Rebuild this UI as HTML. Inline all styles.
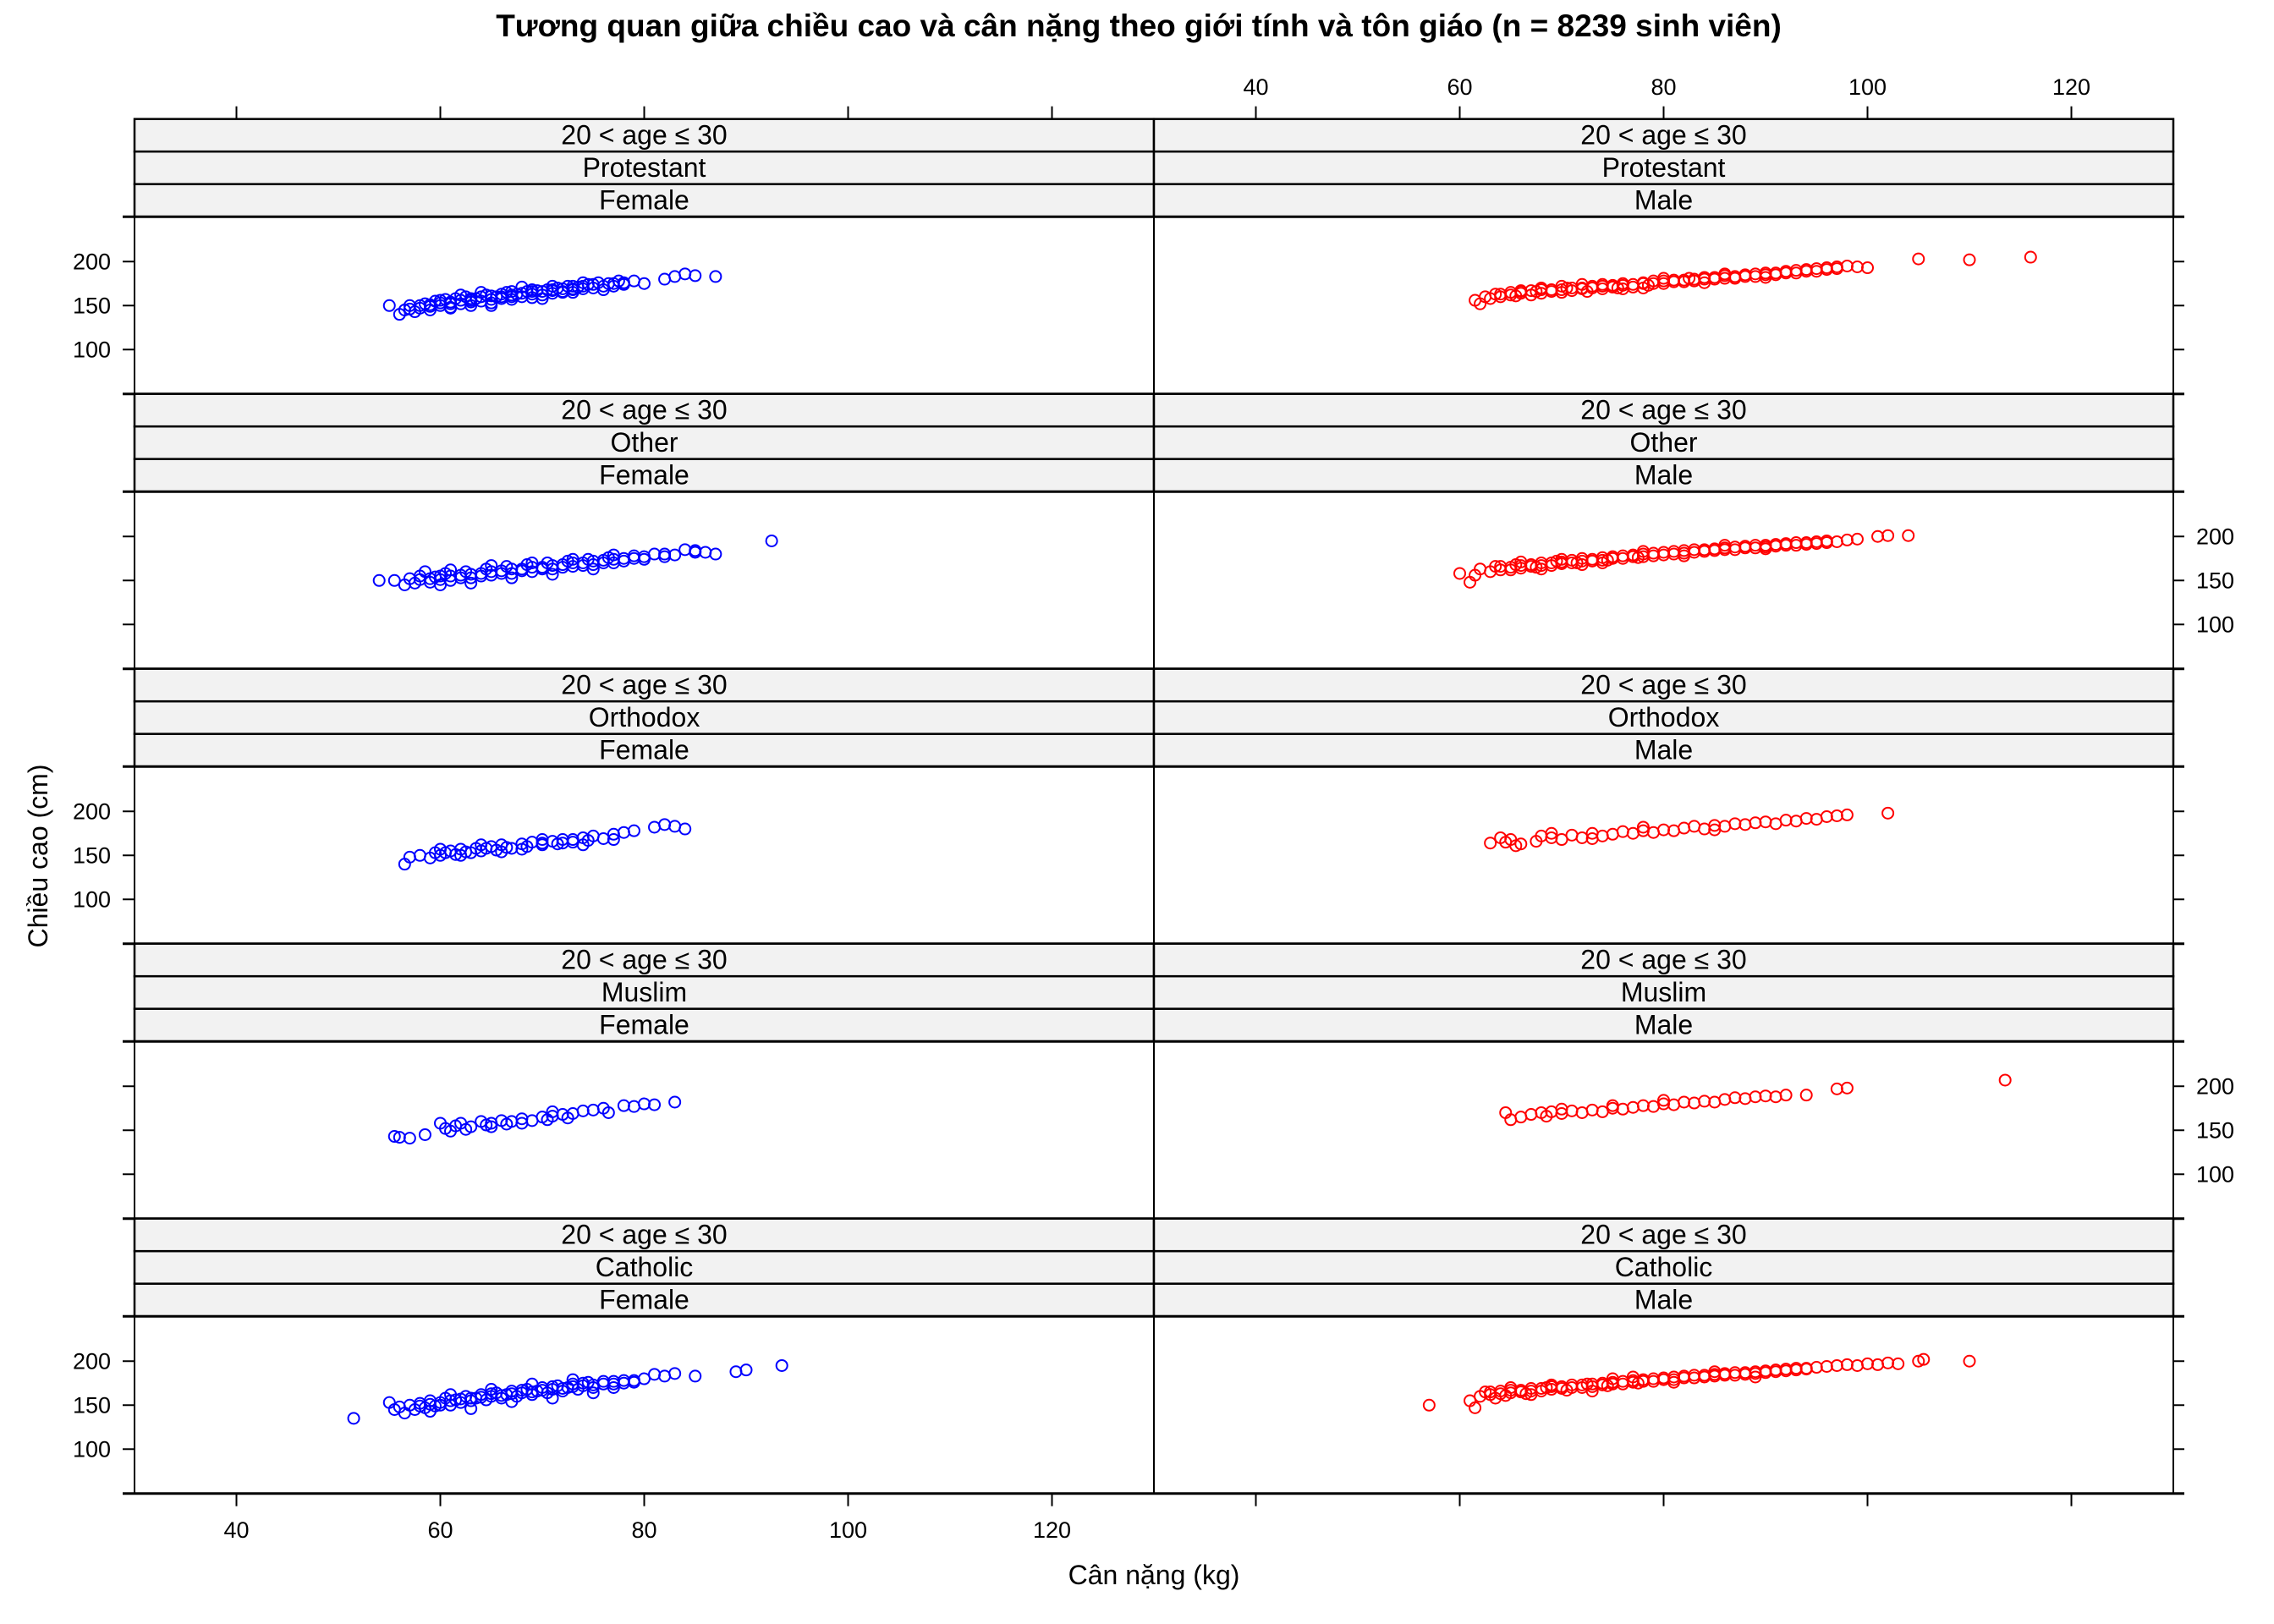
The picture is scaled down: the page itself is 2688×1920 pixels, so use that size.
<!DOCTYPE html>
<html><head><meta charset="utf-8">
<style>
html,body{margin:0;padding:0;background:#fff;}
svg{display:block;font-family:"Liberation Sans","DejaVu Sans",sans-serif;}
</style></head>
<body>
<svg id="chart" width="2688" height="1920" viewBox="0 0 2688 1920" xmlns="http://www.w3.org/2000/svg">
<text x="1346" y="43" text-anchor="middle" font-size="37" font-weight="bold">Tương quan giữa chiều cao và cân nặng theo giới tính và tôn giáo (n = 8239 sinh viên)</text>
<text x="1364" y="1873" text-anchor="middle" font-size="32">Cân nặng (kg)</text>
<text transform="translate(56,1012) rotate(-90)" text-anchor="middle" font-size="32">Chiều cao (cm)</text>
<g id="layer"></g>
</svg>
<script>
const religions = ["Protestant","Other","Orthodox","Muslim","Catholic"];
const genders = ["Female","Male"];
const xTicks = [40,60,80,100,120];
const yTicks = [100,150,200];
const protestantFemale = [[55,150],[56,140],[56.5,145],[57,150],[57.5,143],[58,147],[58.5,152],[59,145],[59.5,155],[60,150],[60.5,157],[61,148],[61.5,158],[62,152],[62.5,160],[63,150],[63.5,158],[64,155],[64.5,162],[65,153],[65.5,160],[66,158],[66.5,165],[67,157],[67.5,163],[68,160],[68.5,166],[69,159],[69.5,167],[70,162],[70.5,168],[71,164],[71.5,170],[72,166],[72.5,172],[73,165],[73.5,171],[74,169],[74.5,174],[75,170],[75.5,176],[76,168],[76.5,175],[77,172],[77.5,178],[78,176],[79,178],[80,175],[82,180],[83,183],[84,186],[85,184],[87,183],[60,156],[62,162],[64,165],[66,160],[68,171],[70,158],[72,165],[74,176],[61,147],[63,154],[65,150],[67,166],[69,163],[71,172],[73,169],[58,150],[59,151],[60,153],[61,154],[62,156],[63,158],[64,160],[65,161],[66,163],[67,160],[68,164],[69,166],[70,166],[71,168],[72,169],[73,172],[74,172],[75,174],[76,172],[77,175],[78,174],[57,146],[59,149],[61,152],[63,156],[65,157],[67,162],[69,168],[71,167],[73,168]];
const protestantMale = [[61.5,156],[62,152],[62.5,160],[63,158],[63.5,163],[64,160],[65,165],[65.5,161],[66,164],[67,162],[67.5,166],[68,164],[69,168],[70,165],[70.5,170],[71,167],[72,170],[72.5,166],[73,172],[74,169],[75,173],[75.5,170],[76,175],[77,171],[78,176],[78.5,173],[79,178],[80,175],[81,179],[82,177],[82.5,181],[83,178],[84,182],[85,180],[86,184],[87,181],[88,185],[89,183],[90,187],[91,185],[92,189],[93,187],[94,191],[95,189],[96,193],[97,192],[98,195],[99,194],[100,193],[105,203],[110,202],[116,205],[68,170],[70,172],[74,174],[76,169],[80,181],[84,176],[66,167],[72,174],[78,170],[86,186],[90,182],[64,163],[65,162],[66,166],[67,167],[68,168],[69,166],[70,168],[71,170],[72,169],[73,170],[74,172],[75,171],[76,173],[77,174],[78,175],[79,175],[80,178],[81,177],[82,179],[83,180],[84,180],[85,182],[86,181],[87,183],[88,183],[89,186],[90,185],[91,187],[92,187],[93,190],[94,189],[95,192],[96,191],[97,194]];
const otherFemale = [[54,150],[55.5,150],[56.5,145],[57,152],[57.5,147],[58,155],[59,148],[59.5,154],[60,151],[60.5,158],[61,150],[62,156],[62.5,160],[63,153],[64,158],[64.5,163],[65,156],[66,161],[66.5,166],[67,158],[68,163],[68.5,168],[69,160],[70,165],[70.5,170],[71,163],[72,168],[72.5,172],[73,166],[74,170],[74.5,174],[75,168],[76,173],[76.5,176],[77,170],[78,175],[79,178],[80,174],[81,180],[82,177],[84,185],[85,182],[86,182],[87,180],[92.5,195],[61,162],[63,147],[65,167],[67,153],[69,170],[71,157],[73,174],[75,163],[77,179],[58.5,160],[60,145],[58,151],[59,152],[60,155],[61,155],[62,153],[63,157],[64,155],[65,160],[66,158],[67,163],[68,161],[69,165],[70,163],[71,167],[72,165],[73,170],[74,167],[75,172],[76,170],[77,174],[78,172],[79,175],[80,177],[82,180],[83,179],[85,184]];
const otherMale = [[60,158],[61,148],[61.5,156],[62,163],[63,160],[63.5,166],[64,162],[65,165],[65.5,168],[66,164],[67,168],[67.5,165],[68,170],[69,167],[69.5,172],[70,169],[71,173],[71.5,170],[72,175],[73,172],[74,176],[74.5,173],[75,177],[76,175],[77,179],[77.5,176],[78,180],[79,178],[80,182],[81,180],[82,184],[83,182],[84,185],[85,184],[86,187],[87,185],[88,189],[89,187],[90,190],[91,189],[92,192],[93,190],[94,193],[95,192],[96,195],[97,194],[98,196],[99,197],[101,200],[102,201],[104,201],[66,171],[70,174],[74,170],[78,183],[82,178],[86,190],[90,186],[68,163],[72,168],[64,166],[65,162],[66,167],[67,166],[68,167],[69,170],[70,171],[71,170],[72,172],[73,174],[74,173],[75,175],[76,178],[77,177],[78,177],[79,181],[80,179],[81,183],[82,181],[83,185],[84,183],[85,186],[86,185],[87,188],[88,187],[89,190],[90,188],[91,191],[92,190],[93,193],[94,191],[95,194],[96,193]];
const orthodoxFemale = [[56.5,140],[57,148],[58,150],[59,147],[59.5,153],[60,150],[61,155],[61.5,151],[62,157],[63,153],[63.5,158],[64,155],[65,160],[65.5,156],[66,162],[67,158],[68,163],[68.5,160],[69,165],[70,162],[71,166],[71.5,163],[72,168],[73,165],[74,170],[74.5,167],[75,172],[76,169],[77,174],[78,176],[79,178],[81,182],[82,185],[83,183],[84,180],[62,150],[66,154],[70,168],[74,162],[77,168],[60,157],[64,162],[60.5,153],[62.5,154],[64.5,158],[66.5,159],[68,157],[70,164],[72,164],[73,168]];
const orthodoxMale = [[63,164],[64,170],[64.5,165],[65,168],[65.5,161],[66,163],[67.5,166],[68,172],[69,170],[70,168],[71,173],[72,170],[73,175],[74,172],[75,174],[76,177],[77,175],[78,178],[79,176],[80,179],[81,178],[82,181],[83,183],[84,180],[85,184],[86,183],[87,186],[88,185],[89,187],[90,188],[91,186],[92,190],[93,189],[94,192],[95,191],[96,194],[97,195],[98,196],[102,198],[69,175],[73,169],[78,182],[85,179]];
const muslimFemale = [[55.5,143],[56,142],[57,141],[58.5,145],[60,158],[60.5,152],[61,149],[61.5,155],[62,158],[62.5,151],[63,154],[64,160],[64.5,156],[65,158],[66,161],[66.5,157],[67,160],[68,163],[69,161],[70,165],[70.5,162],[71,166],[72,168],[72.5,164],[73,169],[74,172],[75,173],[76,175],[76.5,170],[78,178],[79,177],[80,180],[81,179],[83,182],[65,154],[68,158],[71,171]];
const muslimMale = [[64.5,170],[65,162],[66,165],[67,168],[68,170],[68.5,166],[69,171],[70,169],[71,172],[72,170],[73,173],[74,171],[75,175],[76,174],[77,176],[78,178],[79,177],[80,180],[81,179],[82,182],[83,181],[84,183],[85,182],[86,185],[87,187],[88,186],[89,188],[90,189],[91,188],[92,190],[94,190],[97,197],[98,198],[113.5,207],[70,174],[75,178],[80,184]];
const catholicFemale = [[51.5,135],[55,153],[55.5,145],[56,148],[56.5,141],[57,150],[57.5,145],[58,152],[58.5,147],[59,155],[59.5,149],[60,153],[60.5,158],[61,150],[61.5,156],[62,153],[62.5,160],[63,155],[63.5,158],[64,162],[64.5,156],[65,160],[65.5,164],[66,158],[66.5,162],[67,166],[67.5,160],[68,164],[68.5,168],[69,162],[69.5,166],[70,170],[70.5,164],[71,168],[71.5,172],[72,166],[72.5,170],[73,174],[73.5,168],[74,172],[74.5,176],[75,170],[76,174],[77,177],[78,175],[79,178],[80,180],[81,185],[82,183],[83,186],[85,183],[89,188],[90,190],[93.5,195],[59,143],[61,162],[63,146],[65,168],[67,154],[69,174],[71,158],[73,179],[75,164],[77,170],[58,149],[59,151],[60,150],[61,155],[62,157],[63,158],[64,159],[65,163],[66,161],[67,163],[68,167],[69,165],[70,167],[71,171],[72,169],[73,171],[74,175],[75,173],[76,177],[77,174],[78,178],[79,176]];
const catholicMale = [[57,150],[61,155],[61.5,147],[62,160],[62.5,165],[63,162],[63.5,158],[64,166],[64.5,161],[65,164],[66,167],[66.5,163],[67,169],[68,166],[68.5,170],[69,168],[70,171],[70.5,167],[71,173],[72,170],[72.5,174],[73,171],[74,175],[74.5,172],[75,176],[76,174],[77,178],[77.5,175],[78,179],[79,177],[80,181],[81,179],[82,183],[83,181],[84,184],[85,183],[86,186],[87,184],[88,187],[89,186],[90,189],[91,188],[92,191],[93,190],[94,192],[95,193],[96,194],[97,195],[98,196],[99,195],[100,197],[101,196],[102,198],[103,197],[105,200],[105.5,202],[110,200],[65,170],[69,173],[73,166],[77,182],[81,176],[85,188],[89,182],[67,162],[75,180],[63,165],[64,163],[65,167],[66,165],[67,166],[68,169],[69,171],[70,169],[71,170],[72,173],[73,174],[74,173],[75,174],[76,177],[77,176],[78,177],[79,180],[80,179],[81,182],[82,181],[83,184],[84,182],[85,185],[86,184],[87,187],[88,185],[89,188],[90,187],[91,190],[92,189],[93,192],[94,191]];
const panelData = [[protestantFemale,protestantMale],[otherFemale,otherMale],[orthodoxFemale,orthodoxMale],[muslimFemale,muslimMale],[catholicFemale,catholicMale]];
const colors = ["#0000ff","#ff0000"];

const NS = "http://www.w3.org/2000/svg";
const layer = document.getElementById("layer");
const X0 = [159, 1364], PW = 1205, XMIN = 30, XMAX = 130;
const TOP = 140.7, ROWH = 325, STRIPH = 38.5, PH = 209.5, YMIN = 49.6, YMAX = 251;
function xScale(col, v){ return X0[col] + (v - XMIN) / (XMAX - XMIN) * PW; }
function yScale(row, v){ const pt = TOP + row*ROWH + 3*STRIPH; return pt + (YMAX - v) / (YMAX - YMIN) * PH; }
function mk(tag, attrs){ const e = document.createElementNS(NS, tag); for (const k in attrs) e.setAttribute(k, attrs[k]); layer.appendChild(e); return e; }

const bottomY = TOP + 5*ROWH;
for (let c = 0; c < 2; c++) {
  xTicks.forEach(t => {
    const x = xScale(c, t);
    const a = mk("line", {x1:x, x2:x, y1:TOP, y2:TOP-15, stroke:"#000", "stroke-width":2});
    
    
    const b = mk("line", {x1:x, x2:x, y1:bottomY, y2:bottomY+15, stroke:"#000", "stroke-width":2});
    
    
    if (c === 1) {
      const l = mk("text", {x:x, y:112, "text-anchor":"middle", "font-size":27});
      l.textContent = t;
      
      
    } else {
      const l = mk("text", {x:x, y:1818, "text-anchor":"middle", "font-size":27});
      l.textContent = t;
      
      
    }
  });
}

religions.forEach((rel, r) => {
  const rt = TOP + r*ROWH;
  for (let c = 0; c < 2; c++) {
    const labels = ["20 < age ≤ 30", rel, genders[c]];
    labels.forEach((lab, s) => {
      const sr = mk("rect", {x:X0[c], y:rt + s*STRIPH, width:PW, height:STRIPH, fill:"#f2f2f2", stroke:"#000", "stroke-width":2.5});
      
      
      const st = mk("text", {x:X0[c] + PW/2, y:rt + s*STRIPH + 30, "text-anchor":"middle", "font-size":32});
      st.textContent = lab;
      
      
    });
    const pt = rt + 3*STRIPH;
    const pr = mk("rect", {x:X0[c], y:pt, width:PW, height:PH, fill:"#fff", stroke:"#000", "stroke-width":2});
    
    
    panelData[r][c].forEach(p => {
      const ci = mk("circle", {cx:xScale(c, p[0]), cy:yScale(r, p[1]), r:6.5, fill:"none", stroke:colors[c], "stroke-width":2});
      
      
    });
  }
  const hl = mk("line", {x1:145, x2:2582, y1:rt+3*STRIPH, y2:rt+3*STRIPH, stroke:"#000", "stroke-width":3});
  
  
  const hl2 = mk("line", {x1:145, x2:2582, y1:rt+ROWH, y2:rt+ROWH, stroke:"#000", "stroke-width":3});
  
  
  yTicks.forEach(t => {
    const y = yScale(r, t);
    const a = mk("line", {x1:145, x2:159, y1:y, y2:y, stroke:"#000", "stroke-width":2});
    
    
    const b = mk("line", {x1:2568, x2:2582, y1:y, y2:y, stroke:"#000", "stroke-width":2});
    
    
    if (r % 2 === 0) {
      const l = mk("text", {x:131, y:y+9, "text-anchor":"end", "font-size":27});
      l.textContent = t;
      
      
    } else {
      const l = mk("text", {x:2596, y:y+9, "text-anchor":"start", "font-size":27});
      l.textContent = t;
      
      
    }
  });
});
</script>
</body></html>
